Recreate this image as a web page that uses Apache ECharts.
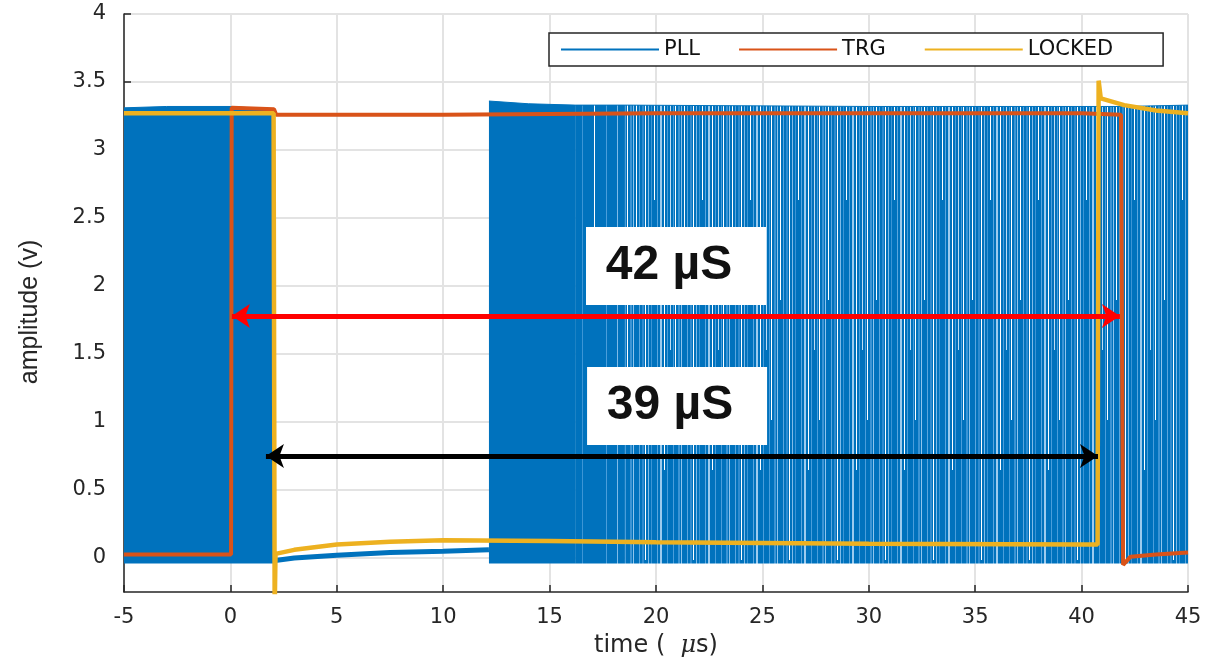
<!DOCTYPE html>
<html><head><meta charset="utf-8">
<script src="https://cdn.jsdelivr.net/npm/echarts@6/dist/echarts.min.js"></script>
<style>html,body{margin:0;padding:0;background:#fff}#c{width:1207px;height:665px}</style>
</head><body><div id="c"></div>
<script>
// ---- axis ticks ----
const yTickValues = [0, 0.5, 1, 1.5, 2, 2.5, 3, 3.5, 4];
const xMin = -5, xMax = 45, xStep = 5;
const yMin = -0.25, yMax = 4;

// ---- PLL (dense square wave shown as its envelope) ----
const pllLow = -0.04;                       // bottom of oscillation band
const pllBurst1 = [[-5, 3.31], [-3, 3.32], [0, 3.32], [1, 3.31], [2.02, 3.30]];
const pllIdle = [[2.02, -0.02], [3, 0.0], [5, 0.02], [7.5, 0.04], [10, 0.05], [12.15, 0.06]];
const pllBurst2 = [[12.15, 3.36], [14, 3.34], [16.2, 3.33]];
const pllBurst3 = [[16.2, 3.33], [18.5, 3.33]];
const pllBurst4 = [[18.5, 3.33], [30, 3.32], [42, 3.32], [45, 3.33]];

// ---- TRG ----
const trg = [[-5, 0.025], [0.03, 0.025], [0.06, 3.31], [2.05, 3.30], [2.15, 3.26], [10, 3.26],
             [20, 3.27], [30, 3.27], [40, 3.27], [41.85, 3.26], [41.95, -0.05], [42.3, 0.01],
             [43.5, 0.025], [45, 0.04]];

// ---- LOCKED ----
const locked = [[-5, 3.27], [2.03, 3.27], [2.08, -0.4], [2.12, 0.03], [3, 0.06], [5, 0.10],
                [7.5, 0.12], [10, 0.13], [15, 0.125], [20, 0.115], [30, 0.105], [40, 0.10],
                [40.75, 0.10], [40.8, 3.51], [40.9, 3.38], [42, 3.33], [43.5, 3.29], [45, 3.27]];

// ---- annotations ----
const spanLabels = ['42 µS', '39 µS'];
const spanY = [1.78, 0.75];
const spanStart = [0.07, 1.67];
const spanEnd = [41.8, 40.77];
const labelX = [20.94, 20.99];
const labelY = [2.147, 1.118];
const spanColors = ['#ff0000', '#000000'];

const C_PLL = '#0072BD', C_TRG = '#D95319', C_LOCK = '#EDB120';

function stripePattern(lines) {
  const c = document.createElement('canvas');
  c.width = 48; c.height = 665;
  const g = c.getContext('2d');
  g.fillStyle = C_PLL; g.fillRect(0, 0, 48, 665);
  lines.forEach(l => { g.fillStyle = l[2]; g.fillRect(l[0], l[3] || 0, l[1], (l[4] || 665) - (l[3] || 0)); });
  return { image: c, repeat: 'repeat' };
}
const denseStripes = stripePattern([
  [1,1,'#4a9edb'],[3,1,'#ffffff',0,420],[6,2,'#3c95d5'],[9,1,'#8fc4ec'],[12,1,'#ffffff',0,300],
  [15,1,'#5aa6de'],[18,2,'#2f8cd0'],[21,1,'#ffffff',0,560],[24,1,'#7fbbe8'],[27,1,'#3c95d5'],
  [30,1,'#ffffff',0,200],[33,1,'#5aa6de'],[36,2,'#9ccbee'],[40,1,'#ffffff',0,470],
  [43,1,'#4a9edb'],[46,1,'#bcdcf3',0,350]
]);
const sparseStripes = stripePattern([
  [6,1,'#3c95d5'],[18,1,'#ffffff',0,300],[30,1,'#4a9edb'],[41,1,'#7fbbe8']
]);

function band(data, fill) {
  return {
    name: 'PLL', type: 'line', data: data, showSymbol: false, symbol: 'none',
    lineStyle: { color: C_PLL, width: 1 }, itemStyle: { color: C_PLL },
    areaStyle: { color: fill, opacity: 1, origin: pllLow }, z: 2
  };
}

const chart = echarts.init(document.getElementById('c'));
chart.setOption({
  animation: false,
  backgroundColor: '#fff',
  grid: { left: 124, right: 19, top: 14, bottom: 73, containLabel: false },
  legend: {
    left: 549, top: 33, orient: 'horizontal',
    padding: [6, 50, 6, 12], itemGap: 39, itemWidth: 98, itemHeight: 2,
    icon: 'rect', backgroundColor: '#fff', borderColor: '#262626', borderWidth: 1.5,
    textStyle: { fontFamily: 'DejaVu Sans', fontSize: 21, color: '#111' },
    data: ['PLL', 'TRG', 'LOCKED']
  },
  xAxis: {
    type: 'value', min: xMin, max: xMax, interval: xStep,
    name: 'time (  {i|μ}s)', nameLocation: 'middle', nameGap: 42,
    nameTextStyle: { fontFamily: 'DejaVu Sans', fontSize: 24, color: '#262626',
      rich: { i: { fontFamily: 'DejaVu Serif', fontStyle: 'italic', fontSize: 24, color: '#262626' } } },
    axisLine: { show: true, onZero: false, lineStyle: { color: '#262626', width: 1.5 } },
    axisTick: { show: true, inside: true, length: 7, lineStyle: { color: '#262626', width: 1.5 } },
    axisLabel: { fontFamily: 'DejaVu Sans', fontSize: 21, color: '#262626', margin: 15 },
    splitLine: { show: true, lineStyle: { color: '#e3e3e3', width: 2 } }
  },
  yAxis: {
    type: 'value', min: yMin, max: yMax,
    name: 'amplitude (v)', nameLocation: 'middle', nameGap: 81, nameRotate: 90,
    nameTextStyle: { fontFamily: 'Liberation Sans', fontSize: 25, color: '#262626', padding: [0, 18, 0, 0] },
    axisLine: { show: true, onZero: false, lineStyle: { color: '#262626', width: 1.5 } },
    axisTick: { show: true, inside: true, length: 7, customValues: yTickValues,
      lineStyle: { color: '#262626', width: 1.5 } },
    axisLabel: { customValues: yTickValues, fontFamily: 'DejaVu Sans', fontSize: 21,
      color: '#262626', margin: 18, formatter: v => String(v) },
    splitLine: { show: true, lineStyle: { color: '#e3e3e3', width: 2 } }
  },
  series: [
    band(pllBurst1, C_PLL),
    {
      name: 'PLL', type: 'line', data: pllIdle, showSymbol: false, symbol: 'none',
      lineStyle: { color: C_PLL, width: 5 }, itemStyle: { color: C_PLL }, z: 2
    },
    band(pllBurst2, C_PLL),
    band(pllBurst3, sparseStripes),
    band(pllBurst4, denseStripes),
    {
      name: 'TRG', type: 'line', data: trg, showSymbol: false, symbol: 'none',
      lineStyle: { color: C_TRG, width: 4 }, itemStyle: { color: C_TRG }, z: 3
    },
    {
      name: 'LOCKED', type: 'line', data: locked, showSymbol: false, symbol: 'none', clip: true,
      lineStyle: { color: C_LOCK, width: 4.5 }, itemStyle: { color: C_LOCK }, z: 4,
      markLine: {
        silent: true, symbol: ['arrow', 'arrow'], symbolSize: 18, label: { show: false },
        data: spanY.map((y, i) => [
          { coord: [spanStart[i], y], lineStyle: { color: spanColors[i], width: 5, type: 'solid' },
            itemStyle: { color: spanColors[i] } },
          { coord: [spanEnd[i], y] }
        ])
      },
      markPoint: {
        silent: true, symbol: 'rect', symbolSize: [180, 78],
        itemStyle: { color: '#ffffff' },
        label: { show: true, position: 'inside', offset: [-7, 0], fontFamily: 'Liberation Sans',
          fontSize: 48, fontWeight: 'bold', color: '#111', formatter: p => p.name },
        data: spanLabels.map((t, i) => ({ name: t, coord: [labelX[i], labelY[i]] }))
      }
    }
  ]
});
</script>
</body></html>
